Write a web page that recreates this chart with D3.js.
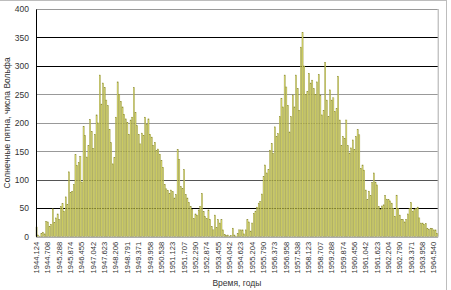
<!DOCTYPE html>
<html>
<head>
<meta charset="utf-8">
<script src="https://cdn.jsdelivr.net/npm/d3@7"></script>
<style>
  body { margin: 0; background: #fff; }
  svg { display: block; font-family: "Liberation Sans", Arial, sans-serif; }
</style>
</head>
<body>
<div id="chart"></div>
<script>
/**
 * DATA
 * monthly sunspot numbers, Feb 1944 .. Sep 1964
 * */
const sunspots = [
  17, 3, 1, 6, 8, 5, 27, 26, 18, 22, 49, 25, 33, 40, 30, 53, 58, 45, 70, 57,
  114, 78, 80, 92, 144, 125, 130, 141, 96, 194, 178, 140, 160, 206, 185, 155, 180, 214, 200, 284,
  233, 270, 262, 240, 230, 188, 165, 128, 139, 210, 272, 250, 238, 228, 215, 207, 201, 180, 205, 210,
  262, 218, 195, 180, 163, 182, 178, 210, 198, 207, 180, 175, 160, 166, 151, 154, 145, 134, 122, 92,
  84, 81, 76, 82, 79, 68, 74, 153, 136, 88, 85, 118, 74, 68, 60, 53, 48, 32, 40, 38,
  47, 53, 76, 44, 35, 32, 47, 30, 18, 12, 38, 16, 30, 24, 30, 12, 4, 2, 3, 1,
  2, 15, 3, 1, 6, 12, 12, 12, 5, 12, 30, 26, 10, 24, 41, 45, 52, 59, 62, 75,
  106, 126, 112, 118, 152, 164, 146, 193, 176, 181, 211, 243, 228, 284, 263, 231, 184, 211, 249, 228,
  284, 260, 222, 333, 359, 300, 250, 255, 287, 270, 275, 260, 250, 272, 285, 249, 214, 222, 306, 240,
  211, 258, 240, 244, 220, 225, 282, 205, 160, 176, 173, 205, 160, 147, 156, 170, 153, 176, 188, 179,
  120, 126, 117, 82, 65, 80, 72, 95, 112, 96, 91, 53, 48, 54, 56, 72, 66, 65, 63, 59,
  50, 36, 73, 50, 38, 30, 30, 26, 30, 40, 50, 60, 45, 48, 50, 52, 33, 24, 24, 22,
  23, 15, 13, 15, 14, 12, 12, 6
];

// one label every 7 months
const tickLabels = [
  "1944.124", "1944.708", "1945.288", "1945.874", "1946.455", "1947.042",
  "1947.623", "1948.206", "1948.791", "1949.371", "1949.958", "1950.538",
  "1951.123", "1951.707", "1952.290", "1952.874", "1953.455", "1954.042",
  "1954.623", "1955.204", "1955.790", "1956.373", "1956.958", "1957.538",
  "1958.123", "1958.707", "1959.288", "1959.874", "1960.456", "1961.042",
  "1961.623", "1962.204", "1962.790", "1963.371", "1963.958", "1964.540"
];
const labelStep = 7;

const yTicks = [0, 50, 100, 150, 200, 250, 300, 350, 400];
// gridline colours as they appear in the picture
const gridColors = ["#000", "#000", "#555", "#999", "#999", "#999", "#000", "#000", "#999"];

/**
 * CONSTANTS
 * */
const width = 451,
  height = 290,
  margin = { top: 9, bottom: 53.3, left: 36, right: 13.3 };

const svg = d3.select("#chart")
  .append("svg")
  .attr("width", width)
  .attr("height", height);

// outer chart border
svg.append("rect")
  .attr("x", -2)
  .attr("y", 0.5)
  .attr("width", 448.5)
  .attr("height", height + 5)
  .attr("fill", "none")
  .attr("stroke", "#bdbdbd");

// SCALES
const xScale = d3.scaleBand()
  .domain(d3.range(sunspots.length))
  .range([margin.left, width - margin.right])
  .paddingInner(0.3);

const yScale = d3.scaleLinear()
  .domain([0, 400])
  .range([height - margin.bottom, margin.top]);

// plot area border (right side)
svg.append("line")
  .attr("x1", width - margin.right + 0.5).attr("x2", width - margin.right + 0.5)
  .attr("y1", margin.top).attr("y2", height - margin.bottom)
  .attr("stroke", "#aaa");

// GRIDLINES
svg.append("g")
  .selectAll("line")
  .data(yTicks.slice(1))
  .join("line")
  .attr("x1", margin.left)
  .attr("x2", width - margin.right)
  .attr("y1", d => Math.round(yScale(d)) + 0.5)
  .attr("y2", d => Math.round(yScale(d)) + 0.5)
  .attr("stroke", (d, i) => gridColors[i + 1])
  .attr("stroke-width", 1);

// BARS
svg.append("g")
  .selectAll("rect")
  .data(sunspots)
  .join("rect")
  .attr("x", (d, i) => xScale(i))
  .attr("width", xScale.bandwidth())
  .attr("y", d => yScale(d))
  .attr("height", d => yScale(0) - yScale(d))
  .attr("fill", "#e2e272")
  .attr("stroke", "#86862e")
  .attr("stroke-width", 0.4);

// AXES
const yAxis = d3.axisLeft(yScale)
  .tickValues(yTicks)
  .tickSize(0)
  .tickPadding(7);

svg.append("g")
  .attr("class", "y-axis")
  .attr("transform", `translate(${margin.left},0)`)
  .call(yAxis)
  .call(g => g.select(".domain").attr("stroke", "#000"))
  .selectAll(".tick text")
  .attr("font-size", 8.5)
  .attr("fill", "#333");

const xAxis = d3.axisBottom(xScale)
  .tickValues(d3.range(0, sunspots.length, labelStep))
  .tickFormat(i => tickLabels[i / labelStep])
  .tickSize(0);

svg.append("g")
  .attr("class", "x-axis")
  .attr("transform", `translate(0,${height - margin.bottom})`)
  .call(xAxis)
  .call(g => g.select(".domain").attr("stroke", "#888"))
  .selectAll(".tick text")
  .attr("font-size", 7.6)
  .attr("fill", "#333")
  .attr("text-anchor", "end")
  .attr("dy", "0.32em")
  .attr("transform", "translate(0,5) rotate(-90)")
  .attr("y", 0)
  .attr("x", 0);

// AXIS TITLES
svg.append("text")
  .attr("x", (margin.left + width - margin.right) / 2)
  .attr("y", 286)
  .attr("text-anchor", "middle")
  .attr("font-size", 8.5)
  .attr("fill", "#333")
  .text("Время, годы");

svg.append("text")
  .attr("transform", `translate(10,${(margin.top + height - margin.bottom) / 2}) rotate(-90)`)
  .attr("text-anchor", "middle")
  .attr("font-size", 8.5)
  .attr("fill", "#333")
  .text("Солнечные пятна, числа Вольфа");
</script>
</body>
</html>
